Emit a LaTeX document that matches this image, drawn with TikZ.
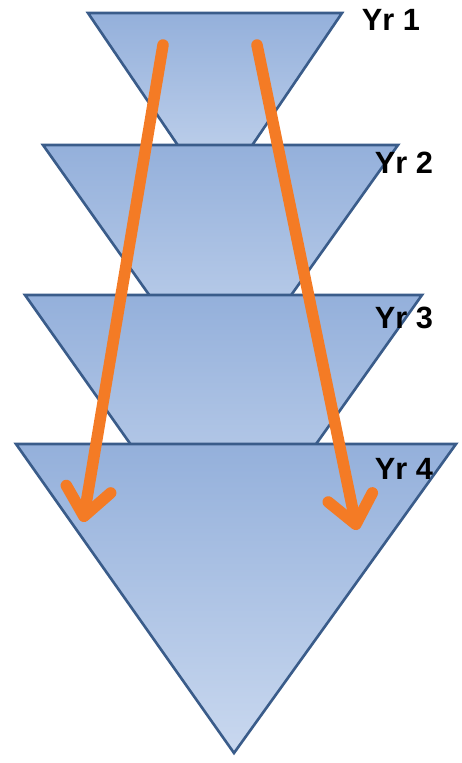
\documentclass[tikz,border=0pt]{standalone}
\usepackage{fontspec}
\setmainfont{Liberation Sans}
\usetikzlibrary{arrows.meta}
\definecolor{triedge}{HTML}{3A5C8A}
\definecolor{tritop}{HTML}{94B0DB}
\definecolor{tribot}{HTML}{C9D8EF}
\definecolor{arrorange}{HTML}{F47B25}

\begin{document}
\begin{tikzpicture}[
  x=0.02cm, y=-0.02cm,
  tri/.style={draw=triedge, line width=1.5pt, top color=tritop, bottom color=tribot},
  yr/.style={font=\fontsize{17.5}{20}\selectfont\bfseries, text=black, inner sep=0pt},
  arr/.style={-{Straight Barb[length=5.5mm, width=9mm, round]}, line width=2.3mm, draw=arrorange, line cap=round}]
\useasboundingbox (0,0) rectangle (462,763);
% year layers, back to front
\draw[tri] (88,13) -- (342,13) -- (215,200) -- cycle;
\draw[tri] (43,145) -- (398,145) -- (220,395) -- cycle;
\draw[tri] (25,295) -- (422,295) -- (223,575) -- cycle;
\draw[tri] (16,444) -- (456,444) -- (234,753) -- cycle;
% labels
\node[yr] (y1) at (391,20) {Yr 1};
\node[yr] (y2) at (404,163) {Yr 2};
\node[yr] (y3) at (404,318) {Yr 3};
\node[yr] (y4) at (404,469) {Yr 4};
% arrows
\coordinate (ls) at (163,45);
\coordinate (le) at (83,522);
\coordinate (rs) at (257,45);
\coordinate (re) at (357,530);
\draw[arr] (ls) -- (le);
\draw[arr] (rs) -- (re);
\end{tikzpicture}
\end{document}
